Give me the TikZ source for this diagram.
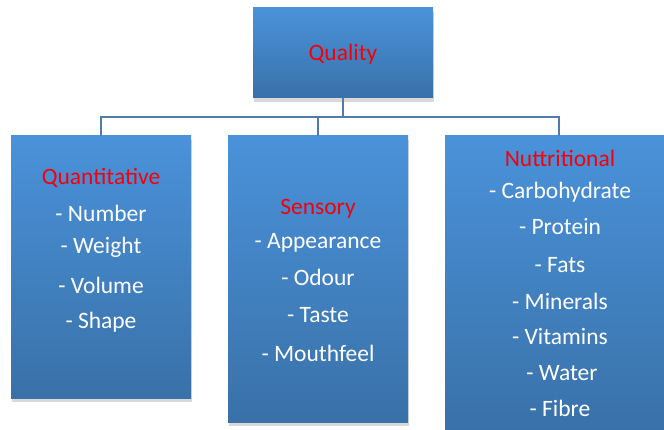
\documentclass[tikz,border=0pt]{standalone}
\usepackage{fontspec}
\setmainfont{Carlito}
\usepackage{tikz}
\usetikzlibrary{shadows}
\usetikzlibrary{positioning}

\definecolor{boxtop}{RGB}{74,146,218}
\definecolor{boxbot}{RGB}{57,113,168}
\definecolor{linkcol}{RGB}{80,123,173}
\definecolor{headred}{RGB}{245,0,10}

\tikzset{
  qbox/.style={rectangle, inner sep=0pt, top color=boxtop, bottom color=boxbot,
    drop shadow={shadow xshift=1pt, shadow yshift=-4pt, opacity=0.25, fill=black!60}},
  head/.style={text=headred, font=\fontsize{23.5}{28}\selectfont},
  item/.style={text=white, font=\fontsize{23.5}{28}\selectfont},
  link/.style={draw=linkcol, line width=2pt}
}

\begin{document}
\begin{tikzpicture}[x=1pt, y=-1pt]
        \useasboundingbox (0,0) rectangle (664,430);

        % boxes
        \node[qbox, minimum width=180pt, minimum height=90pt] (quality) at (343, 53) {};
        \node[qbox, minimum width=180pt, minimum height=262pt] (quant) at (101, 267) {};
        \node[qbox, minimum width=180pt, minimum height=286pt] (sens) at (318, 279) {};
        \node[qbox, minimum width=228pt, minimum height=298pt] (nutr) at (559, 285) {};

        % connectors
        \coordinate (bus) at (343, 117);
        \draw[link] (quality.south) -- (bus);
        \draw[link] (bus) -| (quant.north);
        \draw[link] (bus) -| (sens.north);
        \draw[link] (bus) -| (nutr.north);

        % texts
        \node[head] (qt) at (343, 54) {Quality};

        \node[head] (qa) at (101, 178) {Quantitative};
        \node[item] (qa1) at (101, 213) {- Number};
        \node[item] (qa2) at (101, 247) {- Weight};
        \node[item] (qa3) at (101, 285) {- Volume};
        \node[item] (qa4) at (101, 322) {- Shape};

        \node[head] (se) at (318, 209) {Sensory};
        \node[item] (se1) at (318, 243) {- Appearance};
        \node[item] (se2) at (318, 277) {- Odour};
        \node[item] (se3) at (318, 315) {- Taste};
        \node[item] (se4) at (318, 353) {- Mouthfeel};

        \node[head] (nu) at (560, 158) {Nuttritional};
        \node[item] (nu1) at (560, 192) {- Carbohydrate};
        \node[item] (nu2) at (560, 227) {- Protein};
        \node[item] (nu3) at (560, 265) {- Fats};
        \node[item] (nu4) at (560, 301) {- Minerals};
        \node[item] (nu5) at (560, 337) {- Vitamins};
        \node[item] (nu6) at (562, 373) {- Water};
        \node[item] (nu7) at (560, 408) {- Fibre};
\end{tikzpicture}
\end{document}
